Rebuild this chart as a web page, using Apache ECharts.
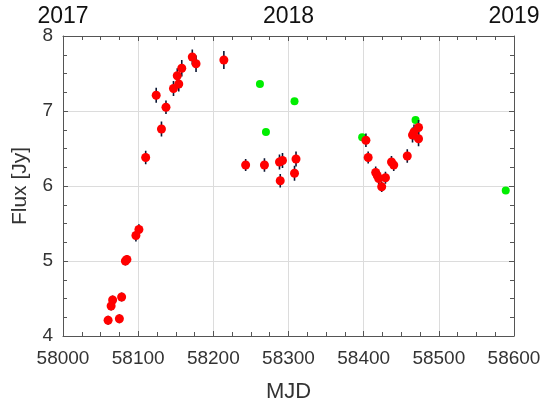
<!DOCTYPE html>
<html>
<head>
<meta charset="utf-8">
<script src="https://cdn.jsdelivr.net/npm/echarts@6/dist/echarts.min.js"></script>
<style>html,body{margin:0;padding:0;background:#fff}#c{width:550px;height:403px}</style>
</head>
<body>
<div id="c"></div>
<script>
// Red points (with error bars)
var redMJD  = [58060, 58064, 58066, 58075, 58078, 58083, 58085, 58097, 58101, 58110,
               58124, 58131, 58137, 58147, 58152, 58154, 58158, 58172, 58177, 58214,
               58243, 58268, 58288, 58292, 58289, 58308, 58310, 58403, 58406, 58416,
               58418, 58420, 58424, 58429, 58437, 58440, 58458, 58465, 58467, 58473, 58473];
var redFlux = [4.21, 4.40, 4.48, 4.23, 4.52, 5.00, 5.02, 5.34, 5.42, 6.38,
               7.21, 6.76, 7.05, 7.30, 7.47, 7.36, 7.57, 7.72, 7.63, 7.68,
               6.28, 6.28, 6.32, 6.34, 6.07, 6.17, 6.36, 6.61, 6.38, 6.18,
               6.14, 6.10, 5.99, 6.11, 6.32, 6.28, 6.40, 6.68, 6.72, 6.78, 6.63];
var redErr  = [0.06, 0.06, 0.06, 0.06, 0.06, 0.06, 0.06, 0.08, 0.07, 0.09,
               0.10, 0.10, 0.09, 0.10, 0.10, 0.10, 0.11, 0.10, 0.11, 0.12,
               0.08, 0.09, 0.10, 0.10, 0.09, 0.10, 0.10, 0.09, 0.08, 0.08,
               0.08, 0.08, 0.07, 0.08, 0.08, 0.08, 0.09, 0.10, 0.10, 0.10, 0.10];
// Green points
var greenMJD  = [58262, 58270, 58308, 58398, 58469, 58589];
var greenFlux = [7.36, 6.72, 7.13, 6.65, 6.88, 5.94];
// Top axis year labels
var yearTicks = {58000: '2017', 58300: '2018', 58600: '2019'};

var redData = redMJD.map(function (m, i) { return [m, redFlux[i]]; });
var errData = redMJD.map(function (m, i) { return [m, redFlux[i] - redErr[i], redFlux[i] + redErr[i]]; });
var greenData = greenMJD.map(function (m, i) { return [m, greenFlux[i]]; });

var FONT = '"Liberation Sans", Arial, sans-serif';
var axisLineStyle = { color: '#555', width: 1 };
var tickStyle = { color: '#555', width: 1 };

var chart = echarts.init(document.getElementById('c'), null, { renderer: 'canvas' });
chart.setOption({
  animation: false,
  backgroundColor: '#fff',
  grid: { left: 63, top: 36, right: 36, bottom: 67, containLabel: false, outerBoundsMode: 'none' },
  xAxis: [{
    type: 'value', position: 'bottom', min: 58000, max: 58600, interval: 100,
    name: 'MJD', nameLocation: 'middle', nameGap: 45,
    nameTextStyle: { fontFamily: FONT, fontSize: 22, color: '#333' },
    axisLine: { show: true, lineStyle: axisLineStyle },
    axisTick: { show: true, inside: true, length: 5, lineStyle: tickStyle },
    minorTick: { show: true, splitNumber: 4, length: 4, lineStyle: tickStyle },
    splitLine: { show: true, lineStyle: { color: '#dcdcdc', width: 1 } },
    axisLabel: { fontFamily: FONT, fontSize: 19, color: '#333', margin: 13,
                 formatter: function (v) { return String(v); } }
  }, {
    type: 'value', position: 'top', min: 58000, max: 58600, interval: 100,
    axisLine: { show: true, lineStyle: axisLineStyle },
    axisTick: { show: true, inside: true, length: 5, lineStyle: tickStyle },
    minorTick: { show: true, splitNumber: 4, length: 4, lineStyle: tickStyle },
    splitLine: { show: false },
    axisLabel: {
      fontFamily: FONT, fontSize: 23, color: '#111', margin: 8,
      showMinLabel: true, showMaxLabel: true,
      formatter: function (v) { return yearTicks[v] || ''; }
    }
  }],
  yAxis: [{
    type: 'value', position: 'left', min: 4, max: 8, interval: 1,
    name: 'Flux [Jy]', nameLocation: 'middle', nameGap: 32,
    nameTextStyle: { fontFamily: FONT, fontSize: 21, color: '#333' },
    axisLine: { show: true, lineStyle: axisLineStyle },
    axisTick: { show: true, inside: true, length: 5, lineStyle: tickStyle },
    minorTick: { show: true, splitNumber: 4, length: 4, lineStyle: tickStyle },
    splitLine: { show: true, lineStyle: { color: '#dcdcdc', width: 1 } },
    axisLabel: { fontFamily: FONT, fontSize: 19, color: '#333', margin: 10 }
  }, {
    type: 'value', position: 'right', min: 4, max: 8, interval: 1,
    axisLine: { show: true, lineStyle: axisLineStyle },
    axisTick: { show: true, inside: true, length: 5, lineStyle: tickStyle },
    minorTick: { show: true, splitNumber: 4, length: 4, lineStyle: tickStyle },
    splitLine: { show: false },
    axisLabel: { show: false }
  }],
  series: [{
    type: 'scatter', name: 'green', xAxisIndex: 0, yAxisIndex: 0,
    data: greenData, symbol: 'circle', symbolSize: 8,
    itemStyle: { color: '#00ee00', opacity: 1 }, z: 2
  }, {
    type: 'custom', name: 'err', xAxisIndex: 0, yAxisIndex: 0,
    data: errData,
    renderItem: function (params, api) {
      var x = api.value(0);
      var lo = api.coord([x, api.value(1)]);
      var hi = api.coord([x, api.value(2)]);
      return {
        type: 'line',
        shape: { x1: lo[0], y1: lo[1], x2: hi[0], y2: hi[1] },
        style: { stroke: '#0b1633', lineWidth: 1.6 }
      };
    },
    z: 3
  }, {
    type: 'scatter', name: 'red', xAxisIndex: 0, yAxisIndex: 0,
    data: redData, symbol: 'circle', symbolSize: 9,
    itemStyle: { color: '#ff0000', opacity: 1 }, z: 4
  }]
});
</script>
</body>
</html>
